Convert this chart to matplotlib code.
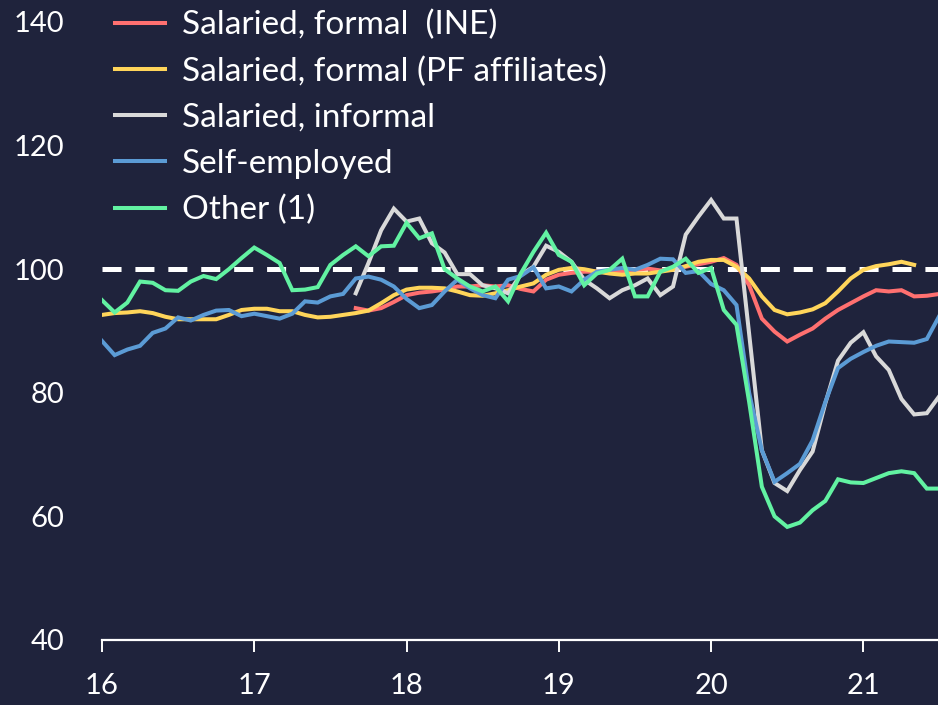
import numpy as np
import matplotlib
matplotlib.use('Agg')
import matplotlib.pyplot as plt

plt.rcParams['font.family'] = ['Lato', 'DejaVu Sans']
plt.rcParams['lines.scale_dashes'] = False

# Цвета
bg = '#1f233c'
c_red = '#ff7070'
c_yellow = '#ffd55a'
c_gray = '#d9d9d9'
c_blue = '#5b9bd5'
c_green = '#62f2a2'

# Данные (помесячно, старт = январь 2016)
labels = ['Salaried, formal  (INE)', 'Salaried, formal (PF affiliates)',
          'Salaried, informal', 'Self-employed', 'Other (1)']

ine_start = 20
ine = [93.7, 93.3, 93.7, 94.7, 95.8, 96.2, 96.4, 96.7, 97.2, 97.2,
       97.4, 97.2, 97.4, 96.8, 96.4, 98.3, 99.1, 99.4, 99.6, 99.6,
       99.6, 99.6, 99.9, 100.1, 99.8, 100.0, 100.4, 100.8, 101.2, 101.8,
       100.7, 97.4, 92.0, 89.9, 88.3, 89.4, 90.4, 92.0, 93.4, 94.5,
       95.6, 96.6, 96.4, 96.6, 95.6, 95.7, 96.0]

pf_start = 0
pf = [92.6, 92.9, 93.0, 93.2, 92.9, 92.3, 91.9, 91.9, 91.9, 91.9,
      92.6, 93.4, 93.6, 93.6, 93.2, 93.2, 92.6, 92.2, 92.3, 92.6,
      92.9, 93.3, 94.5, 95.8, 96.7, 97.0, 97.0, 96.9, 96.4, 95.8,
      95.7, 96.1, 96.6, 97.2, 97.7, 99.1, 99.9, 100.2, 100.0, 99.6,
      99.3, 99.1, 99.3, 99.3, 99.6, 99.9, 100.5, 101.2, 101.5, 101.5,
      100.4, 98.5, 95.6, 93.4, 92.7, 93.0, 93.5, 94.5, 96.4, 98.5,
      99.9, 100.5, 100.8, 101.2, 100.7]

informal_start = 20
informal = [96.1, 101.0, 106.3, 109.8, 107.7, 108.2, 104.2, 102.7, 99.2, 99.2,
            97.4, 96.9, 96.1, 99.1, 100.4, 103.8, 102.8, 101.2, 98.3, 96.9,
            95.3, 96.6, 97.4, 98.5, 95.8, 97.2, 105.6, 108.5, 111.2, 108.2,
            108.2, 89.5, 70.7, 65.4, 64.1, 67.5, 70.5, 78.3, 85.2, 88.1,
            89.8, 85.9, 83.7, 79.0, 76.5, 76.7, 79.5]

selfemp_start = 0
selfemp = [88.4, 86.1, 87.0, 87.6, 89.7, 90.4, 92.2, 91.7, 92.6, 93.3,
           93.4, 92.4, 92.8, 92.4, 92.0, 92.8, 94.8, 94.6, 95.6, 96.0,
           98.5, 98.8, 98.3, 97.2, 95.2, 93.7, 94.2, 96.4, 98.3, 96.9,
           95.8, 95.3, 98.3, 98.9, 100.3, 96.9, 97.2, 96.4, 98.3, 99.6,
           99.9, 100.2, 99.9, 100.7, 101.7, 101.6, 99.4, 99.7, 97.6, 96.6,
           94.2, 80.0, 70.7, 65.6, 67.0, 68.5, 72.3, 78.5, 84.0, 85.5,
           86.6, 87.6, 88.3, 88.2, 88.1, 88.7, 92.5]

other_start = 0
other = [95.0, 93.0, 94.6, 98.0, 97.8, 96.6, 96.5, 98.0, 98.9, 98.4,
         100.0, 101.8, 103.5, 102.3, 101.0, 96.6, 96.7, 97.1, 100.7, 102.3,
         103.7, 102.1, 103.7, 103.8, 107.5, 105.0, 105.8, 100.0, 98.5, 97.2,
         96.4, 97.2, 94.8, 99.3, 102.8, 105.9, 102.3, 101.2, 97.4, 99.3,
         99.9, 101.7, 95.6, 95.6, 99.6, 100.4, 101.7, 99.4, 100.2, 93.4,
         91.0, 78.5, 64.8, 60.0, 58.3, 59.0, 61.0, 62.5, 66.0, 65.5,
         65.4, 66.2, 67.0, 67.3, 67.0, 64.5, 64.5]

series = [(ine_start, ine, c_red), (pf_start, pf, c_yellow),
          (informal_start, informal, c_gray), (selfemp_start, selfemp, c_blue),
          (other_start, other, c_green)]

fig = plt.figure(figsize=(9.38, 7.05), dpi=100, facecolor=bg)
ax = fig.add_axes([0.1087, 0.0922, 0.8913, 0.8766], facecolor=bg)

for (start, vals, col), lab in zip(series, labels):
    x = 16 + (start + np.arange(len(vals))) / 12
    ax.plot(x, vals, color=col, lw=2.9, label=lab, solid_joinstyle='miter')

ax.axhline(100, color='white', lw=3.6, dashes=(13.7, 10), zorder=1)

ax.set_xlim(16, 21.49)
ax.set_ylim(40, 140)
ax.set_xticks([16, 17, 18, 19, 20, 21])
ax.set_yticks([40, 60, 80, 100, 120, 140])

for s in ['top', 'right', 'left']:
    ax.spines[s].set_visible(False)
ax.spines['bottom'].set_color('white')
ax.spines['bottom'].set_linewidth(1.6)

ax.tick_params(axis='x', colors='white', labelsize=21, length=8.5, width=1.4, pad=15)
ax.tick_params(axis='y', colors='white', labelsize=21, length=0, pad=27)

leg = ax.legend(loc='upper left', bbox_to_anchor=(115 / 938, 1 - 10 / 705),
                bbox_transform=fig.transFigure, frameon=False, fontsize=24,
                handlelength=1.5, handletextpad=0.5, labelspacing=0.48,
                borderpad=0, borderaxespad=0)
for t in leg.get_texts():
    t.set_color('white')
for h in leg.get_lines():
    h.set_linewidth(2.9)

fig.savefig('out.png', dpi=100, facecolor=bg)
